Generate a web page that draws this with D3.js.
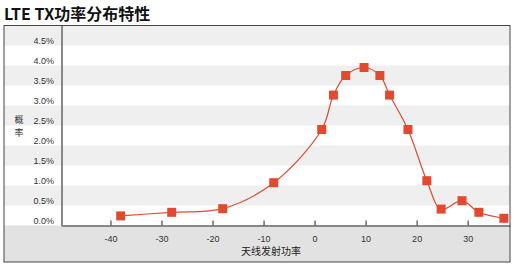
<!DOCTYPE html>
<html>
<head>
<meta charset="utf-8">
<script src="https://cdn.jsdelivr.net/npm/d3@7"></script>
<style>
body { margin: 0; background: #fff; }
svg { font-family: "Liberation Sans", Arial, "Noto Sans CJK SC", sans-serif; }
</style>
</head>
<body>
<svg id="chart"></svg>
<script>
const width = 517
const height = 272

// data
var power = [-38, -28, -18, -8, 1.4, 3.7, 6.1, 9.7, 12.8, 14.7, 18.3, 22, 24.8, 28.9, 32.2, 37.1]
var prob = [0.24, 0.33, 0.42, 1.07, 2.4, 3.26, 3.75, 3.95, 3.75, 3.26, 2.4, 1.12, 0.41, 0.62, 0.33, 0.18]
var yTicks = [0, 0.5, 1, 1.5, 2, 2.5, 3, 3.5, 4, 4.5]
var xTicks = [-40, -30, -20, -10, 0, 10, 20, 30]

var svg = d3.select("#chart").attr("width", width).attr("height", height)

var frame = {left: 4, top: 25.5, right: 510, bottom: 262}
var plot = {left: 62, right: 510, top: 25.5, bottom: 225.5}

var x = d3.scaleLinear().domain([-49.5, 38.3]).range([plot.left, plot.right])
var y = d3.scaleLinear().domain([0, 5]).range([plot.bottom, plot.top])

// title
svg.append("text")
    .attr("x", 4)
    .attr("y", 20)
    .style("font-size", "16px")
    .style("font-weight", "bold")
    .style("fill", "#111")
    .style("font-family", "'Noto Sans CJK SC', sans-serif")
    .text("LTE TX功率分布特性")

// frame background
svg.append("rect")
    .attr("x", frame.left).attr("y", frame.top)
    .attr("width", frame.right - frame.left).attr("height", frame.bottom - frame.top)
    .attr("fill", "#fff")

// stripes between ticks
svg.append("g").selectAll("rect")
    .data(yTicks.filter(function(d, i) { return i % 2 == 1 }))
    .enter()
    .append("rect")
    .attr("x", frame.left)
    .attr("y", function(d) { return y(d + 0.5) })
    .attr("width", frame.right - frame.left)
    .attr("height", function(d) { return y(d) - y(d + 0.5) })
    .attr("fill", "#efefef")

// bottom area
svg.append("rect")
    .attr("x", frame.left).attr("y", plot.bottom)
    .attr("width", frame.right - frame.left).attr("height", frame.bottom - plot.bottom)
    .attr("fill", "#e2e2e2")

// y labels (baseline sits on the tick)
svg.append("g").selectAll("text")
    .data(yTicks)
    .enter()
    .append("text")
    .attr("x", 54)
    .attr("y", function(d) { return y(d) - 2 })
    .attr("text-anchor", "end")
    .style("font-size", "9px")
    .style("fill", "#333")
    .text(function(d) { return d.toFixed(1) + "%" })

// y axis title, one character per line
svg.append("g").selectAll("text")
    .data(["概", "率"])
    .enter()
    .append("text")
    .attr("x", 19)
    .attr("y", function(d, i) { return 123 + i * 13 })
    .attr("text-anchor", "middle")
    .style("font-size", "9px")
    .style("fill", "#333")
    .style("font-family", "'Noto Sans CJK SC', sans-serif")
    .text(function(d) { return d })

// x axis
var xAxis = d3.axisBottom(x)
    .tickValues(xTicks)
    .tickFormat(function(d) { return String(d) })
    .tickSizeInner(-5)
    .tickSizeOuter(0)
    .tickPadding(10)

var gx = svg.append("g")
    .attr("transform", "translate(0," + plot.bottom + ")")
    .call(xAxis)
gx.select(".domain").attr("stroke", "#888").attr("stroke-width", 2)
gx.selectAll(".tick line").attr("stroke", "#222")
gx.selectAll(".tick text")
    .style("font-size", "9px")
    .style("fill", "#333")
    .style("font-family", "'Liberation Sans', Arial, sans-serif")

svg.append("text")
    .attr("x", 271)
    .attr("y", 255)
    .attr("text-anchor", "middle")
    .style("font-size", "10px")
    .style("fill", "#222")
    .style("font-family", "'Noto Sans CJK SC', sans-serif")
    .text("天线发射功率")

// left axis line
svg.append("line")
    .attr("x1", plot.left).attr("x2", plot.left)
    .attr("y1", plot.top).attr("y2", plot.bottom + 1)
    .attr("stroke", "#888")
    .attr("stroke-width", 2)

// frame border
svg.append("rect")
    .attr("x", frame.left).attr("y", frame.top)
    .attr("width", frame.right - frame.left).attr("height", frame.bottom - frame.top)
    .attr("fill", "none")
    .attr("stroke", "#444")
    .attr("stroke-width", 1)

// line
var line = d3.line()
    .x(function(d, i) { return x(power[i]) })
    .y(function(d, i) { return y(prob[i]) })
    .curve(d3.curveCatmullRom.alpha(0.5))

svg.append("path")
    .datum(prob)
    .attr("d", line)
    .attr("fill", "none")
    .attr("stroke", "#de4b32")
    .attr("stroke-width", 1.2)

// markers
var ms = 9
svg.append("g").selectAll("rect")
    .data(prob)
    .enter()
    .append("rect")
    .attr("x", function(d, i) { return x(power[i]) - ms / 2 })
    .attr("y", function(d) { return y(d) - ms / 2 })
    .attr("width", ms)
    .attr("height", ms)
    .attr("fill", "#e14a30")
</script>
</body>
</html>
